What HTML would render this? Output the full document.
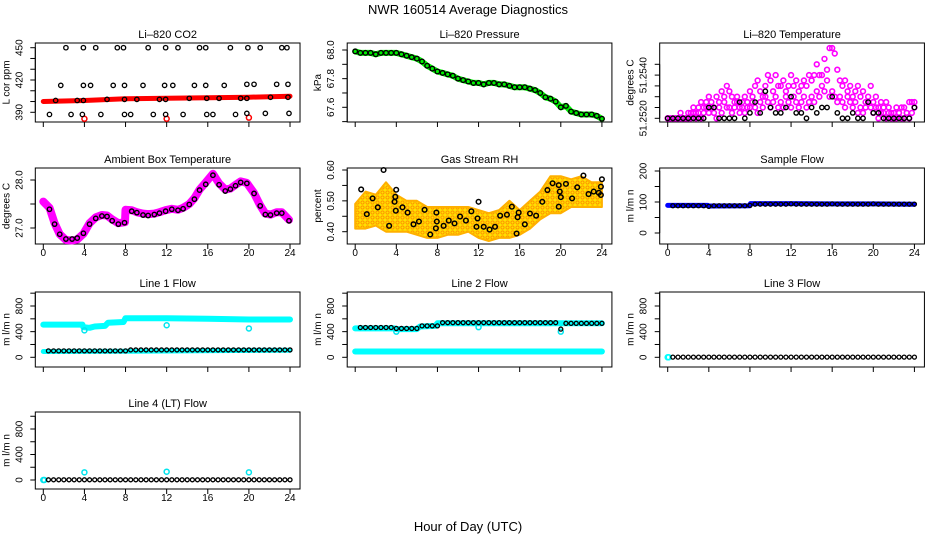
<!DOCTYPE html>
<html><head><meta charset="utf-8"><style>
html,body{margin:0;padding:0;background:#fff}
svg{display:block;font-family:"Liberation Sans",sans-serif}
</style></head><body>
<svg id="chart" width="936" height="540" viewBox="0 0 936 540" xmlns="http://www.w3.org/2000/svg">
<defs>
<pattern id="orangePat" width="5" height="5" patternUnits="userSpaceOnUse"><rect width="5" height="5" fill="#ffe000"/><circle cx="2.5" cy="2.5" r="1.6" fill="none" stroke="#ff8c00" stroke-width="0.9"/></pattern>
</defs>
<text x="468" y="14" font-size="13" text-anchor="middle">NWR  160514  Average Diagnostics</text>
<text x="468" y="531" font-size="13" text-anchor="middle">Hour of Day (UTC)</text>
</svg>
<script>
// ---------- data ----------
const xTicks=[0,4,8,12,16,20,24];
const co2TopHours=[2.2,3.9,5.1,7.2,7.8,10.2,11.9,13.1,15.2,15.8,18.2,19.9,21.1,23.2,23.7];
const co2TopVals=[450,450,450,450,450,450,450,450,450,450,450,450,450,450,450];
const co2MidHours=[1.7,3.9,4.6,6.8,7.9,9.7,11.8,12.6,14.7,15.8,17.6,19.8,20.5,22.7,23.8];
const co2MidVals=[415,415,415,415,415,415,415,415,415,415,415,416,416,416,416];
const co2LineHours=[1.2,3.3,3.9,6.2,7.9,9.1,11.3,11.9,14.2,15.9,17.1,19.2,19.8,22.1,23.8];
const co2LineVals=[401,401,401,402,402,402,402,402,403,403,403,403,403,404,404];
const co2LowHours=[0.6,2.7,3.8,5.6,7.9,8.5,10.7,11.9,13.6,15.9,16.5,18.7,19.8,21.6,23.9];
const co2LowVals=[388,388,388,388,388,388,388,388,388,388,388,388,389,389,389];
const co2RedHours=[0,4,8,12,16,20,24];
const co2RedVals=[400,401,402.5,403,403.5,404,405];
const co2RedOutHours=[4,12,20];
const co2RedOutVals=[384,384,385];

const halfHours=[0,0.5,1,1.5,2,2.5,3,3.5,4,4.5,5,5.5,6,6.5,7,7.5,8,8.5,9,9.5,10,10.5,11,11.5,12,12.5,13,13.5,14,14.5,15,15.5,16,16.5,17,17.5,18,18.5,19,19.5,20,20.5,21,21.5,22,22.5,23,23.5,24];
const pressVals=[67.99,67.98,67.98,67.98,67.97,67.98,67.98,67.98,67.98,67.97,67.96,67.95,67.94,67.92,67.89,67.87,67.85,67.84,67.83,67.82,67.80,67.79,67.78,67.77,67.77,67.76,67.77,67.77,67.76,67.76,67.75,67.74,67.74,67.74,67.73,67.72,67.70,67.67,67.66,67.64,67.60,67.61,67.57,67.56,67.55,67.55,67.55,67.54,67.52];

const quarterHours=[0,0.25,0.5,0.75,1,1.25,1.5,1.75,2,2.25,2.5,2.75,3,3.25,3.5,3.75,4,4.25,4.5,4.75,5,5.25,5.5,5.75,6,6.25,6.5,6.75,7,7.25,7.5,7.75,8,8.25,8.5,8.75,9,9.25,9.5,9.75,10,10.25,10.5,10.75,11,11.25,11.5,11.75,12,12.25,12.5,12.75,13,13.25,13.5,13.75,14,14.25,14.5,14.75,15,15.25,15.5,15.75,16,16.25,16.5,16.75,17,17.25,17.5,17.75,18,18.25,18.5,18.75,19,19.25,19.5,19.75,20,20.25,20.5,20.75,21,21.25,21.5,21.75,22,22.25,22.5,22.75,23,23.25,23.5,23.75,24];
const tempPinkA=[0,0,0,0, 0,1,0,0, 1,1,2,1, 2,3,2,3, 4,3,2,4, 3,5,4,6, 5,4,3,4, 2,3,4,3, 5,4,6,7, 5,4,6,8, 7,5,8,6, 6,7,5,6, 8,6,7,5, 6,7,6,8, 7,8,10,8, 8,11,9,13, 13,12,9,7, 6,7,5,6, 4,5,6,4, 5,3,4,6, 3,4,2,3, 2,3,2,1, 1,2,1,2, 2,1,3,3, 3];
const tempPinkB=[0,0,0,0, 0,0,0,0, 0,0,1,0, 1,0,1,2, 1,2,1,0, 2,1,3,2, 2,1,2,3, 1,2,1,2, 2,3,2,1, 3,2,4,3, 2,3,4,2, 3,2,4,3, 2,4,3,2, 3,4,2,3, 4,3,5,4, 6,5,7,4, 5,4,3,4, 3,2,4,3, 2,3,1,2, 1,2,3,2, 1,2,0,1, 1,0,1,0, 0,0,1,0, 0,1,0,1, 2];
const tempBlack=[0,0,0,0,0,0,0,0,2,2,0,0,0,0,3,0,1,3,1,5,2,1,1,2,4,1,1,0,2,1,2,2,4,1,0,0,1,0,0,3,1,1,0,0,0,0,0,0,2];

const ambPinkHours=[0,0.6,1.1,1.6,2.2,2.8,3.3,3.9,4.5,5.1,5.7,6.2,6.7,7.3,7.95,8.0,8.6,9.1,9.7,10.2,10.8,11.3,11.9,12.5,13.1,13.6,14.2,14.7,15.2,15.8,16.5,17.1,17.7,18.2,18.7,19.2,19.8,20.5,21.1,21.6,22.1,22.7,23.2,23.9];
const ambPinkVals=[27.55,27.42,27.1,26.87,26.75,26.74,26.76,26.88,27.1,27.22,27.27,27.26,27.18,27.1,27.12,27.38,27.37,27.33,27.3,27.29,27.3,27.33,27.37,27.4,27.38,27.42,27.5,27.62,27.8,27.95,28.13,27.93,27.8,27.82,27.9,27.97,27.94,27.73,27.47,27.3,27.28,27.33,27.33,27.17];
const ambHours=[0.6,1.1,1.6,2.2,2.8,3.3,3.9,4.5,5.1,5.7,6.2,6.7,7.3,7.9,8.6,9.1,9.7,10.2,10.8,11.3,11.9,12.5,13.1,13.6,14.2,14.7,15.2,15.8,16.5,17.1,17.7,18.2,18.7,19.2,19.8,20.5,21.1,21.6,22.1,22.7,23.2,23.9];
const ambVals=[27.39,27.08,26.87,26.77,26.77,26.79,26.89,27.08,27.20,27.25,27.24,27.15,27.08,27.11,27.35,27.32,27.27,27.26,27.28,27.31,27.35,27.39,27.37,27.40,27.49,27.60,27.79,27.91,28.10,27.90,27.77,27.81,27.88,27.95,27.93,27.72,27.46,27.28,27.27,27.31,27.31,27.15];

const rhBandHours=[0,1,2,3,4,5,6,7,8,9,10,11,12,13,14,15,16,17,18,19,20,21,22,23,24];
const rhBandLo=[0.41,0.41,0.42,0.40,0.40,0.40,0.39,0.38,0.38,0.39,0.39,0.40,0.38,0.37,0.38,0.38,0.39,0.41,0.44,0.46,0.46,0.48,0.48,0.48,0.48];
const rhBandHi=[0.49,0.53,0.52,0.56,0.52,0.50,0.50,0.48,0.48,0.48,0.48,0.48,0.47,0.46,0.47,0.50,0.47,0.50,0.53,0.58,0.58,0.57,0.58,0.56,0.56];
const rhHours=[0.58,1.13,1.69,2.2,2.76,3.3,3.83,3.9,3.99,3.95,4.6,5.1,5.67,6.2,6.75,7.3,7.85,7.94,7.9,8.6,9.1,9.66,10.2,10.77,11.3,11.8,11.9,12.0,12.5,13.07,13.6,14.1,14.76,15.24,15.8,15.9,15.7,16.5,17.0,17.6,18.2,18.7,19.2,19.8,19.8,19.9,20.0,20.5,21.1,21.6,22.2,22.7,23.2,23.7,24.0,23.9,23.9];
const rhVals=[0.537,0.457,0.508,0.479,0.60,0.419,0.497,0.513,0.536,0.468,0.479,0.462,0.424,0.433,0.471,0.391,0.411,0.433,0.462,0.419,0.436,0.427,0.449,0.436,0.466,0.416,0.443,0.497,0.416,0.407,0.416,0.452,0.455,0.481,0.447,0.462,0.394,0.424,0.459,0.452,0.497,0.535,0.557,0.551,0.481,0.530,0.512,0.555,0.508,0.544,0.582,0.522,0.530,0.526,0.570,0.546,0.519];

const flowHours=[0.5,1,1.5,2,2.5,3,3.5,4,4.5,5,5.5,6,6.5,7,7.5,8,8.5,9,9.5,10,10.5,11,11.5,12,12.5,13,13.5,14,14.5,15,15.5,16,16.5,17,17.5,18,18.5,19,19.5,20,20.5,21,21.5,22,22.5,23,23.5,24];
const sampleBlueHours=[0,3.9,4,8,8.05,12,16,20,24];
const sampleBlueVals=[89,89,87,88,95,95,94,94,93];
const sampleBlack=[88,88,88,88,88,88,88,86,88,88,88,88,88,88,88,89,93,93,93,93,93,93,93,94,93,93,93,93,93,93,93,94,93,93,93,93,93,93,93,94,93,93,93,93,93,93,93,93];

const l1UpperHours=[0,3.8,3.9,4.5,5,6,6.3,7.8,8,12,16,20,24];
const l1UpperVals=[510,510,470,460,480,490,540,550,610,610,600,590,590];
const l1LowerHours=[0,8,24];
const l1LowerVals=[90,95,110];
const l1Black=[100,100,100,100,100,100,100,100,100,100,100,100,100,100,100,100,115,115,115,115,115,115,115,115,115,115,115,115,115,115,115,115,115,115,115,115,115,115,115,115,115,115,115,115,115,115,115,115];
const l1OutHours=[4,12,20];
const l1OutVals=[420,500,450];

const l2UpperHours=[0,3.8,4,6,6.3,7.8,8,19.5,20,24];
const l2UpperVals=[450,450,440,440,480,490,530,530,530,530];
const l2LowerHours=[0,24];
const l2LowerVals=[90,90];
const l2Black=[465,465,465,465,465,465,465,450,450,450,450,450,490,490,490,490,540,540,540,540,540,540,540,540,540,540,540,540,540,540,540,540,540,540,540,540,540,540,540,440,530,530,530,530,530,530,530,530];
const l2OutHours=[4,12,20];
const l2OutVals=[400,470,400];

const l3Black=[3,3,3,3,3,3,3,3,3,3,3,3,3,3,3,3,3,3,3,3,3,3,3,3,3,3,3,3,3,3,3,3,3,3,3,3,3,3,3,3,3,3,3,3,3,3,3,3];
const l3CyanHours=[0,0.1];
const l3CyanVals=[0,0];
const l4Black=[3,3,3,3,3,3,3,3,3,3,3,3,3,3,3,3,3,3,3,3,3,3,3,3,3,3,3,3,3,3,3,3,3,3,3,3,3,3,3,3,3,3,3,3,3,3,3,3];
const l4CyanHours=[0,0.1,4,12,20];
const l4CyanVals=[0,0,120,130,120];

// ---------- layout ----------
const NS="http://www.w3.org/2000/svg";
const svg=document.getElementById('chart');
const X0=[43.3,355.2,667.7];
const PX=10.28;
const ROWS=[[43,122],[168,244],[292,367],[412,489]];
function hx(c,h){return X0[c]+h*PX;}
function lin(v0,p0,v1,p1){return v=>p0+(v-v0)*(p1-p0)/(v1-v0);}
function mk(tag,attrs,parent){const e=document.createElementNS(NS,tag);for(const k in attrs)e.setAttribute(k,attrs[k]);(parent||svg).appendChild(e);return e;}

function panel(c,r,name,title,ylab,ym,ticks,labels,showX){
  const g=mk('g',{});
  
  
  const top=ROWS[r][0],bot=ROWS[r][1],left=X0[c]-8,right=hx(c,24)+10;
  const box=mk('rect',{x:left,y:top,width:right-left,height:bot-top,fill:'none',stroke:'#000','stroke-width':1},g);
  
  
  const t=mk('text',{x:(left+right)/2,y:top-5,'font-size':11,'text-anchor':'middle'},g);
  t.textContent=title;
  
  
  const yl=mk('text',{x:left-26,y:(top+bot)/2,'font-size':10,'text-anchor':'middle',transform:`rotate(-90 ${left-26} ${(top+bot)/2})`},g);
  yl.textContent=ylab;
  
  
  const ya=mk('line',{x1:left,x2:left,y1:ym(ticks[0]),y2:ym(ticks[ticks.length-1]),stroke:'#000'},g);
  
  
  ticks.forEach(v=>{
    const tk=mk('line',{x1:left-5,x2:left,y1:ym(v),y2:ym(v),stroke:'#000'},g);
    
    
  });
  labels.forEach(l=>{
    const y=ym(l[0]);
    const tx=mk('text',{x:left-13,y:y,'font-size':10,'text-anchor':'middle',transform:`rotate(-90 ${left-13} ${y})`},g);
    tx.textContent=l[1];
    
    
  });
  xTicks.forEach(h=>{
    const tk=mk('line',{x1:hx(c,h),x2:hx(c,h),y1:bot,y2:bot+5,stroke:'#000'},g);
    
    
    if(showX){
      const tx=mk('text',{x:hx(c,h),y:bot+12,'font-size':10,'text-anchor':'middle'},g);
      tx.textContent=String(h);
      
      
    }
  });
  return g;
}
function pts(g,c,ym,hours,vals,color,r,sw,name){
  hours.forEach((h,i)=>{
    const p=mk('circle',{cx:hx(c,h),cy:ym(vals[i]),r:r,fill:'none',stroke:color,'stroke-width':sw},g);
    
    
  });
}
function band(g,c,ym,hours,vals,color,w,name){
  let d='';
  hours.forEach((h,i)=>{d+=(i?'L':'M')+hx(c,h).toFixed(1)+' '+ym(vals[i]).toFixed(1)+' ';});
  const p=mk('path',{d:d,fill:'none',stroke:color,'stroke-width':w,'stroke-linejoin':'round','stroke-linecap':'round'},g);
  
  
}

// Panel 1: CO2
{const ym=lin(390,112.3,450,47.7);
 const g=panel(0,0,'co2-panel','Li\u2013820 CO2','L cor ppm',ym,[390,400,410,420,430,440,450],[[390,'390'],[420,'420'],[450,'450']],false);
 band(g,0,ym,co2RedHours,co2RedVals,'#ff0000',5,'co2-red-series');
 pts(g,0,ym,co2RedOutHours,co2RedOutVals,'#ff0000',2.5,1.5,'co2-red-point');
 pts(g,0,ym,co2TopHours,co2TopVals,'#000',2.2,1.3,'co2-point');
 pts(g,0,ym,co2MidHours,co2MidVals,'#000',2.2,1.3,'co2-point');
 pts(g,0,ym,co2LineHours,co2LineVals,'#000',2.2,1.3,'co2-point');
 pts(g,0,ym,co2LowHours,co2LowVals,'#000',2.2,1.3,'co2-point');}

// Panel 2: Pressure
{const ym=lin(68,50,67.6,107.3);
 const g=panel(1,0,'pressure-panel','Li\u2013820 Pressure','kPa',ym,[67.5,67.6,67.7,67.8,67.9,68.0],[[67.6,'67.6'],[67.8,'67.8'],[68.0,'68.0']],false);
 band(g,1,ym,halfHours,pressVals,'#00ee00',6,'pressure-green-series');
 pts(g,1,ym,halfHours,pressVals,'#000',2.3,1.4,'pressure-point');}

// Panel 3: Li-820 temperature (half-step level units)
{const ym=lin(0,118.3,1,112.9);
 const g=panel(2,0,'li820-temperature-panel','Li\u2013820 Temperature','degrees C',ym,[0,2,4,6,8,10],[[0,'51.2520'],[8,'51.2540']],false);
 pts(g,2,ym,quarterHours,tempPinkB,'#ff00ff',2.4,1.6,'li820-temp-pink-point');
 pts(g,2,ym,quarterHours,tempPinkA,'#ff00ff',2.4,1.6,'li820-temp-pink-point');
 pts(g,2,ym,halfHours,tempBlack,'#000',2.2,1.4,'li820-temp-point');}

// Panel 4: Ambient box temperature
{const ym=lin(27,228,28,180);
 const g=panel(0,1,'ambient-temperature-panel','Ambient Box Temperature','degrees C',ym,[27,27.5,28],[[27,'27.0'],[28,'28.0']],true);
 band(g,0,ym,ambPinkHours,ambPinkVals,'#ff00ff',8,'ambient-pink-series');
 pts(g,0,ym,ambHours,ambVals,'#000',2.2,1.4,'ambient-point');}

// Panel 5: Gas stream RH
{const ym=lin(0.4,231.7,0.6,170);
 const g=panel(1,1,'rh-panel','Gas Stream RH','percent',ym,[0.4,0.45,0.5,0.55,0.6],[[0.4,'0.40'],[0.5,'0.50'],[0.6,'0.60']],true);
 let d='';
 rhBandHours.forEach((h,i)=>{d+=(i?'L':'M')+hx(1,h).toFixed(1)+' '+ym(rhBandHi[i]).toFixed(1)+' ';});
 for(let i=rhBandHours.length-1;i>=0;i--){d+='L'+hx(1,rhBandHours[i]).toFixed(1)+' '+ym(rhBandLo[i]).toFixed(1)+' ';}
 const p=mk('path',{d:d+'Z',fill:'url(#orangePat)',stroke:'#ffb000','stroke-width':2,'stroke-linejoin':'round'},g);
 
 
 pts(g,1,ym,rhHours,rhVals,'#000',2.3,1.5,'rh-point');}

// Panel 6: Sample flow
{const ym=lin(0,233,200,171);
 const g=panel(2,1,'sample-flow-panel','Sample Flow','m l/m n',ym,[0,50,100,150,200],[[0,'0'],[100,'100'],[200,'200']],true);
 band(g,2,ym,sampleBlueHours,sampleBlueVals,'#0000ff',5,'sample-blue-series');
 pts(g,2,ym,flowHours,sampleBlack,'#000',2,1.3,'sample-point');}

// Panel 7: Line 1 flow
{const ym=lin(0,357.3,800,306);
 const g=panel(0,2,'line1-flow-panel','Line 1 Flow','m l/m n',ym,[0,200,400,600,800,1000],[[0,'0'],[400,'400'],[800,'800']],false);
 band(g,0,ym,l1UpperHours,l1UpperVals,'#00ffff',6,'line1-cyan-upper');
 band(g,0,ym,l1LowerHours,l1LowerVals,'#00ffff',5,'line1-cyan-lower');
 pts(g,0,ym,l1OutHours,l1OutVals,'#00e5ee',2.5,1.5,'line1-cyan-outlier');
 pts(g,0,ym,flowHours,l1Black,'#000',2,1.3,'line1-point');}

// Panel 8: Line 2 flow
{const ym=lin(0,357.3,800,306);
 const g=panel(1,2,'line2-flow-panel','Line 2 Flow','m l/m n',ym,[0,200,400,600,800,1000],[[0,'0'],[400,'400'],[800,'800']],false);
 band(g,1,ym,l2UpperHours,l2UpperVals,'#00ffff',6,'line2-cyan-upper');
 band(g,1,ym,l2LowerHours,l2LowerVals,'#00ffff',6,'line2-cyan-lower');
 pts(g,1,ym,l2OutHours,l2OutVals,'#00e5ee',2.5,1.5,'line2-cyan-outlier');
 pts(g,1,ym,flowHours,l2Black,'#000',2,1.3,'line2-point');}

// Panel 9: Line 3 flow
{const ym=lin(0,357.3,800,306);
 const g=panel(2,2,'line3-flow-panel','Line 3 Flow','m l/m n',ym,[0,200,400,600,800,1000],[[0,'0'],[400,'400'],[800,'800']],false);
 pts(g,2,ym,l3CyanHours,l3CyanVals,'#00ffff',2.5,1.5,'line3-cyan-point');
 pts(g,2,ym,flowHours,l3Black,'#000',2,1.3,'line3-point');}

// Panel 10: Line 4 flow
{const ym=lin(0,480,800,429);
 const g=panel(0,3,'line4-flow-panel','Line 4 (LT) Flow','m l/m n',ym,[0,200,400,600,800,1000],[[0,'0'],[400,'400'],[800,'800']],true);
 pts(g,0,ym,l4CyanHours,l4CyanVals,'#00e5ee',2.5,1.5,'line4-cyan-point');
 pts(g,0,ym,flowHours,l4Black,'#000',2,1.3,'line4-point');}
</script>
</body></html>
